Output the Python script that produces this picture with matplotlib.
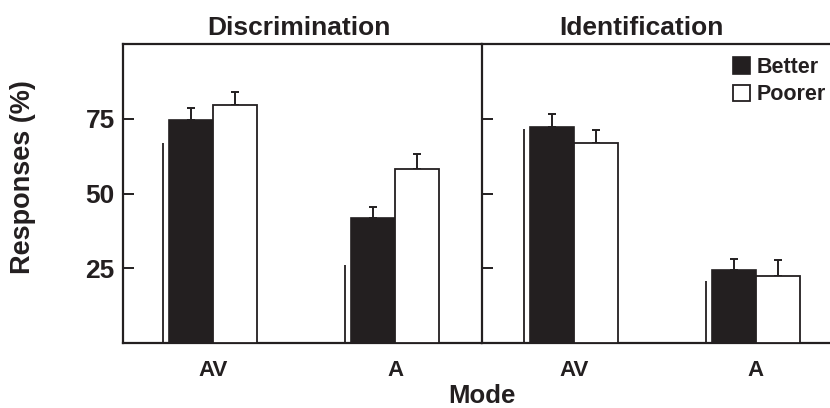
import matplotlib
matplotlib.use("Agg")
import matplotlib.pyplot as plt
from matplotlib.patches import Patch
import numpy as np

plt.rcParams['font.family'] = ['Liberation Sans', 'DejaVu Sans']
plt.rcParams['font.weight'] = 'bold'

INK = '#231f20'

modes = ["AV", "A"]
panels = ["Discrimination", "Identification"]
series = ["Better", "Poorer"]

disc_better = [74.7, 41.7]
disc_better_err = [3.8, 3.7]
disc_poorer = [79.5, 58.2]
disc_poorer_err = [4.4, 4.9]
disc_line = [67.0, 26.0]

ident_better = [72.1, 24.3]
ident_better_err = [4.4, 3.9]
ident_poorer = [67.0, 22.5]
ident_poorer_err = [4.1, 5.1]
ident_line = [71.7, 20.9]

yticks = [25, 50, 75]

W, H = 830, 408
fig = plt.figure(figsize=(W / 100, H / 100), dpi=100)

def px_axes(x0, y0, x1, y1):
    return fig.add_axes([x0 / W, 1 - y1 / H, (x1 - x0) / W, (y1 - y0) / H])

ax1 = px_axes(123, 44, 481, 343)
ax2 = px_axes(482, 44, 832, 343)

data = [
    (disc_better, disc_better_err, disc_poorer, disc_poorer_err, disc_line),
    (ident_better, ident_better_err, ident_poorer, ident_poorer_err, ident_line),
]
xlims = [(-0.496, 1.47), (-0.505, 1.42)]
bw = 0.242

for i, (ax, (b, be, p, pe, ln)) in enumerate(zip([ax1, ax2], data)):
    x = np.arange(len(modes))
    ax.vlines(x - 0.275, 0, ln, color=INK, lw=1.3, zorder=2)
    ax.bar(x - bw / 2, b, bw, color=INK, edgecolor=INK, lw=1.2, zorder=3)
    ax.bar(x + bw / 2, p, bw, color='white', edgecolor=INK, lw=1.3, zorder=3)
    ax.errorbar(x - bw / 2, b, yerr=[np.zeros(len(b)), be], fmt='none',
                ecolor=INK, elinewidth=1.4, capsize=3, capthick=1.4, zorder=2)
    ax.errorbar(x + bw / 2, p, yerr=[np.zeros(len(p)), pe], fmt='none',
                ecolor=INK, elinewidth=1.4, capsize=3, capthick=1.4, zorder=2)
    ax.set_xlim(*xlims[i])
    ax.set_ylim(0, 100)
    ax.set_yticks(yticks)
    ax.set_xticks(x)
    ax.set_xticklabels(modes, fontsize=16, fontweight='bold', color=INK)
    ax.tick_params(axis='x', length=0, pad=12)
    ax.tick_params(axis='y', direction='in', length=8, width=1.4, colors=INK,
                   labelsize=19, pad=6)
    for s in ['top', 'left', 'bottom']:
        ax.spines[s].set_linewidth(1.6)
        ax.spines[s].set_color(INK)
    ax.spines['right'].set_visible(False)
    ax.set_facecolor('none')

for lab in ax1.get_yticklabels():
    lab.set_fontweight('bold')
ax2.set_yticklabels([])

fig.text(299 / W, 1 - 35 / H, panels[0], ha='center', va='baseline',
         fontsize=19, fontweight='bold', color=INK)
fig.text(641 / W, 1 - 35 / H, panels[1], ha='center', va='baseline',
         fontsize=19, fontweight='bold', color=INK)

fig.text(23 / W, 1 - 177 / H, "Responses (%)", rotation=90, ha='center',
         va='center', fontsize=19.5, fontweight='bold', color=INK)
fig.text(482 / W, 1 - 403 / H, "Mode", ha='center', va='baseline',
         fontsize=18.5, fontweight='bold', color=INK)

handles = [Patch(facecolor=INK, edgecolor=INK, lw=1.2),
           Patch(facecolor='white', edgecolor=INK, lw=1.3)]
leg = ax2.legend(handles, series, loc='upper left',
                 bbox_to_anchor=((733 - 482) / 350, 1 - (57 - 44) / 299),
                 frameon=False, prop={'size': 15.5, 'weight': 'bold'},
                 handlelength=0.8, handleheight=0.8, handletextpad=0.3,
                 labelspacing=0.3, borderpad=0, borderaxespad=0)
for t in leg.get_texts():
    t.set_color(INK)

fig.savefig("out.png", dpi=100)
